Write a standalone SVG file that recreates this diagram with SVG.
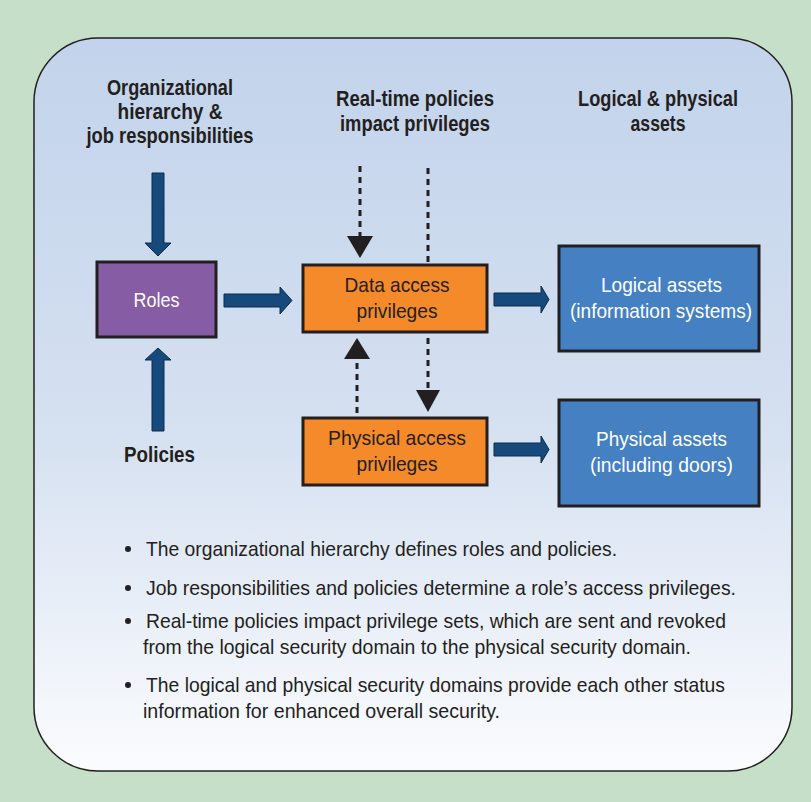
<svg xmlns="http://www.w3.org/2000/svg" width="811" height="802" viewBox="0 0 811 802">
<defs>
<linearGradient id="panelGrad" x1="0" y1="0" x2="0" y2="1">
<stop offset="0" stop-color="#c2d3eb"/>
<stop offset="0.55" stop-color="#d6e1f1"/>
<stop offset="1" stop-color="#fbfcfe"/>
</linearGradient>
<style>
.t{font-family:"Liberation Sans",Arial,sans-serif;fill:#231f20}
.b{font-weight:bold;font-size:22px}
.n{font-size:21px}
.w{fill:#ffffff}
.box{stroke:#231f20;stroke-width:3}
.blk{fill:#164a7d;stroke:#0d2c4c;stroke-width:1}
.dot{stroke:#231f20;stroke-width:3;stroke-dasharray:6 5;fill:none}
.head{fill:#231f20}
</style>
</defs>
<rect x="0" y="0" width="811" height="802" fill="#c5dfc9"/>
<rect x="34" y="38" width="758" height="733" rx="64" ry="64" fill="url(#panelGrad)" stroke="#231f20" stroke-width="1.5"/>

<g id="label-org">
<text class="t b" x="170" y="95" text-anchor="middle" textLength="126" lengthAdjust="spacingAndGlyphs">Organizational</text>
<text class="t b" x="170" y="119" text-anchor="middle" textLength="105" lengthAdjust="spacingAndGlyphs">hierarchy &amp;</text>
<text class="t b" x="170" y="143" text-anchor="middle" textLength="167" lengthAdjust="spacingAndGlyphs">job responsibilities</text>
</g>
<g id="label-realtime">
<text class="t b" x="415" y="106" text-anchor="middle" textLength="158" lengthAdjust="spacingAndGlyphs">Real-time policies</text>
<text class="t b" x="415" y="131" text-anchor="middle" textLength="150" lengthAdjust="spacingAndGlyphs">impact privileges</text>
</g>
<g id="label-assets">
<text class="t b" x="658" y="106" text-anchor="middle" textLength="160" lengthAdjust="spacingAndGlyphs">Logical &amp; physical</text>
<text class="t b" x="658" y="131" text-anchor="middle" textLength="55" lengthAdjust="spacingAndGlyphs">assets</text>
</g>
<g id="label-policies">
<text class="t b" x="159.5" y="462" text-anchor="middle" textLength="71" lengthAdjust="spacingAndGlyphs">Policies</text>
</g>

<g id="connectors">
<polygon class="blk" points="152,173 164,173 164,243 171,243 158,256 145,243 152,243"/>
<polygon class="blk" points="152,431 164,431 164,360 171,360 158,348 145,360 152,360"/>
<polygon class="blk" points="224,294 280,294 280,287 292,300.5 280,314 280,307 224,307"/>
<polygon class="blk" points="494,293 541,293 541,286 549,299.5 541,313 541,306 494,306"/>
<polygon class="blk" points="494,443 541,443 541,436 549,449.5 541,463 541,456 494,456"/>
<line class="dot" x1="360" y1="166" x2="360" y2="236"/>
<polygon class="head" points="347,236 373,236 360,258"/>
<line class="dot" x1="428" y1="168" x2="428" y2="265"/>
<line class="dot" x1="428" y1="338" x2="428" y2="390"/>
<polygon class="head" points="416,390 440,390 428,412"/>
<line class="dot" x1="357" y1="413" x2="357" y2="359"/>
<polygon class="head" points="344,359 370,359 357,338"/>
</g>

<g id="roles">
<rect class="box" x="97" y="262" width="119" height="75" fill="#865ca5"/>
<text class="t n w" x="156.5" y="307" text-anchor="middle" textLength="46" lengthAdjust="spacingAndGlyphs">Roles</text>
</g>
<g id="data-access">
<rect class="box" x="303" y="265" width="184" height="67" fill="#f48a29"/>
<text class="t n" x="397" y="292" text-anchor="middle" textLength="105" lengthAdjust="spacingAndGlyphs">Data access</text>
<text class="t n" x="397" y="318" text-anchor="middle" textLength="81" lengthAdjust="spacingAndGlyphs">privileges</text>
</g>
<g id="physical-access">
<rect class="box" x="303" y="418" width="184" height="67" fill="#f48a29"/>
<text class="t n" x="397" y="445" text-anchor="middle" textLength="138" lengthAdjust="spacingAndGlyphs">Physical access</text>
<text class="t n" x="397" y="471" text-anchor="middle" textLength="81" lengthAdjust="spacingAndGlyphs">privileges</text>
</g>
<g id="logical-assets">
<rect class="box" x="559" y="246" width="200" height="105" fill="#4480c2"/>
<text class="t n w" x="661.5" y="292" text-anchor="middle" textLength="121" lengthAdjust="spacingAndGlyphs">Logical assets</text>
<text class="t n w" x="661" y="318" text-anchor="middle" textLength="182" lengthAdjust="spacingAndGlyphs">(information systems)</text>
</g>
<g id="physical-assets">
<rect class="box" x="559" y="400" width="200" height="106" fill="#4480c2"/>
<text class="t n w" x="661.5" y="446" text-anchor="middle" textLength="131" lengthAdjust="spacingAndGlyphs">Physical assets</text>
<text class="t n w" x="661.5" y="472" text-anchor="middle" textLength="143" lengthAdjust="spacingAndGlyphs">(including doors)</text>
</g>

<g id="bullets">
<circle cx="128" cy="549" r="3" fill="#231f20"/>
<text class="t n" x="146" y="556" textLength="471" lengthAdjust="spacingAndGlyphs">The organizational hierarchy defines roles and policies.</text>
<circle cx="128" cy="588" r="3" fill="#231f20"/>
<text class="t n" x="146" y="595" textLength="590" lengthAdjust="spacingAndGlyphs">Job responsibilities and policies determine a role’s access privileges.</text>
<circle cx="128" cy="621" r="3" fill="#231f20"/>
<text class="t n" x="146" y="628" textLength="580" lengthAdjust="spacingAndGlyphs">Real-time policies impact privilege sets, which are sent and revoked</text>
<text class="t n" x="143" y="654" textLength="548" lengthAdjust="spacingAndGlyphs">from the logical security domain to the physical security domain.</text>
<circle cx="128" cy="685" r="3" fill="#231f20"/>
<text class="t n" x="146" y="692" textLength="579" lengthAdjust="spacingAndGlyphs">The logical and physical security domains provide each other status</text>
<text class="t n" x="143" y="718" textLength="357" lengthAdjust="spacingAndGlyphs">information for enhanced overall security.</text>
</g>
</svg>
